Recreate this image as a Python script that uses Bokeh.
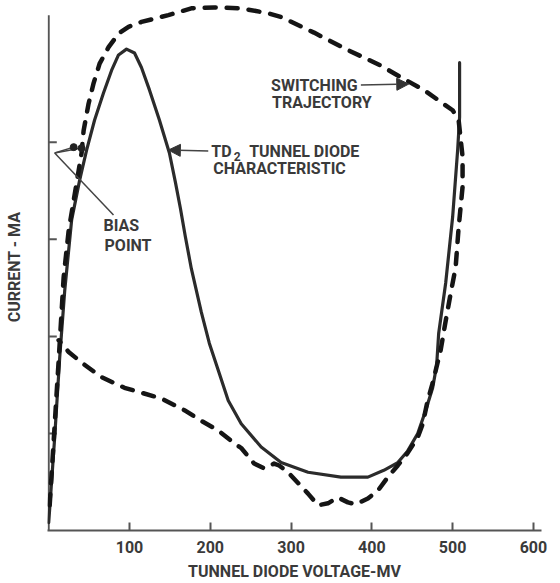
from bokeh.plotting import figure
from bokeh.models import Label, Arrow, NormalHead, FixedTicker, Range1d
from bokeh.embed import file_html
from bokeh.resources import INLINE

# TD2 tunnel diode characteristic (voltage mV, current in axis-tick units)
diode_v = [0, 7.4, 13.6, 19.8, 28.4, 38.3, 46.9, 56.8, 67.9, 77.8, 86.4, 96.3,
           106.2, 114.8, 124.7, 137.0, 149.4, 156.8, 163.0, 169.1, 176.5, 188.9,
           198.8, 211.1, 222.2, 238.3, 263.0, 287.7, 321.0, 361.7, 395.1, 414.8,
           432.1, 444.4, 456.8, 466.7, 475.3, 480.2, 482.7, 491.4, 500.0, 506.2,
           508.6, 508.6]
diode_i = [0.08, 0.96, 1.78, 2.47, 3.20, 3.61, 3.92, 4.23, 4.51, 4.74, 4.90, 4.96,
           4.92, 4.77, 4.54, 4.23, 3.89, 3.59, 3.32, 3.03, 2.70, 2.25, 1.93, 1.62,
           1.34, 1.10, 0.86, 0.70, 0.60, 0.55, 0.55, 0.62, 0.70, 0.82, 1.00, 1.24,
           1.47, 1.70, 2.03, 2.55, 3.23, 3.92, 4.26, 4.82]

# Switching trajectory
traj_v = [1.2, 6.2, 12.3, 18.5, 24.7, 30.9, 40.7, 43.2, 49.4, 55.6, 63.0, 74.1,
          86.4, 98.8, 114.8, 148.1, 176.5, 204.9, 238.3, 271.6, 287.7, 328.4,
          370.4, 411.1, 435.8, 464.2, 500.0, 507.4, 512.3, 512.3, 507.4, 503.7,
          497.5, 491.4, 485.2, 475.3, 469.1, 463.0, 456.8, 444.4, 432.1, 419.8,
          407.4, 395.1, 380.2, 370.4, 358.0, 345.7, 333.3, 321.0, 308.6, 296.3,
          285.2, 279.0, 266.7, 254.3, 238.3, 229.6, 209.9, 188.9, 167.9, 139.5,
          114.8, 93.8, 65.4, 40.7, 24.7, 12.3]
traj_i = [0.26, 0.93, 1.75, 2.61, 3.09, 3.40, 3.89, 4.12, 4.40, 4.61, 4.81, 4.98,
          5.12, 5.19, 5.24, 5.31, 5.38, 5.39, 5.38, 5.33, 5.29, 5.13, 4.95, 4.79,
          4.67, 4.54, 4.33, 4.23, 3.85, 3.54, 3.12, 2.71, 2.44, 2.16, 1.86, 1.52,
          1.34, 1.10, 0.96, 0.80, 0.67, 0.55, 0.41, 0.33, 0.27, 0.29, 0.34, 0.28,
          0.26, 0.38, 0.49, 0.60, 0.67, 0.69, 0.64, 0.69, 0.85, 0.90, 1.03, 1.13,
          1.24, 1.36, 1.42, 1.47, 1.58, 1.73, 1.84, 1.96]

x_ticks = [100, 200, 300, 400, 500, 600]
y_ticks = [1, 2, 3, 4]
y_axis_top = 5.31

INK = "#2b2b2b"
TXT = "#3a3a3a"
AXC = "#555555"
FONT = "Roboto"

p = figure(width=560, height=583, output_backend="svg", toolbar_location=None,
           x_range=Range1d(-1.5, 610), y_range=Range1d(0, 5.43),
           min_border_left=47, min_border_right=19, min_border_top=3,
           min_border_bottom=53)
p.outline_line_color = None
p.xgrid.visible = False
p.ygrid.visible = False
p.background_fill_color = "white"
p.border_fill_color = "white"

for ax in (p.xaxis[0], p.yaxis[0]):
    ax.axis_line_color = AXC
    ax.axis_line_width = 2
    ax.major_tick_line_color = AXC
    ax.major_tick_line_width = 2
    ax.major_tick_in = 8
    ax.major_tick_out = 0
    ax.minor_tick_line_color = None
    ax.axis_label_text_font = FONT
    ax.axis_label_text_font_style = "bold"
    ax.axis_label_text_color = TXT
    ax.axis_label_text_font_size = "16px"

p.xaxis.ticker = FixedTicker(ticks=x_ticks)
p.xaxis.major_label_text_font = FONT
p.xaxis.major_label_text_font_style = "bold"
p.xaxis.major_label_text_font_size = "16px"
p.xaxis.major_label_text_color = TXT
p.xaxis.major_label_standoff = 10
p.xaxis.axis_label = "TUNNEL DIODE VOLTAGE-MV"
p.xaxis.axis_label_standoff = 6

p.yaxis.ticker = FixedTicker(ticks=y_ticks)
p.yaxis.major_label_overrides = {t: "" for t in y_ticks}
p.yaxis.axis_label = "CURRENT - MA"
p.yaxis.axis_label_standoff = 24
p.yaxis.axis_line_color = None
p.yaxis.major_tick_line_color = None
# vertical axis line (drawn only up to its hand-drawn top) and its inward ticks
p.segment(x0=[0], y0=[0], x1=[0], y1=[y_axis_top], line_color=AXC, line_width=2)
p.segment(x0=[0] * len(y_ticks), y0=y_ticks, x1=[10] * len(y_ticks), y1=y_ticks,
          line_color=AXC, line_width=2)

# curves
p.line(diode_v, diode_i, line_color=INK, line_width=3.2, line_join="round",
       line_cap="round")
p.line(traj_v, traj_i, line_color="#151515", line_width=4.5, line_dash="11 11",
       line_cap="round", line_join="round")

def lab(x, y, t, size="16px", align="left"):
    p.add_layout(Label(x=x, y=y, text=t, text_font=FONT, text_font_style="bold",
                       text_font_size=size, text_color=TXT, text_align=align,
                       text_baseline="middle"))

lab(275.3, 4.59, "SWITCHING")
lab(276.5, 4.41, "TRAJECTORY")
lab(201.2, 3.91, "TD")
lab(229.0, 3.85, "2", size="12px")
lab(248.1, 3.91, "TUNNEL DIODE")
lab(203.7, 3.73, "CHARACTERISTIC")
lab(67.9, 3.14, "BIAS")
lab(69.1, 2.94, "POINT")

p.add_layout(Arrow(end=NormalHead(size=12, fill_color="#333333", line_color="#333333"),
                   x_start=386.4, y_start=4.59, x_end=445.7, y_end=4.60,
                   line_color="#444444", line_width=1.5))
p.add_layout(Arrow(end=NormalHead(size=12, fill_color="#333333", line_color="#333333"),
                   x_start=197.5, y_start=3.91, x_end=148.1, y_end=3.92,
                   line_color="#444444", line_width=1.5))

# bias point leader lines
p.segment(x0=[7.4, 7.4, 7.4], y0=[3.89, 3.89, 3.89], x1=[30.9, 40.7, 80.2],
          y1=[3.95, 3.94, 3.25], line_color="#444444", line_width=1.5)
p.scatter([30.9, 40.7], [3.95, 3.94], size=7, color="#222222")

open("out.html", "w").write(file_html(p, INLINE))
